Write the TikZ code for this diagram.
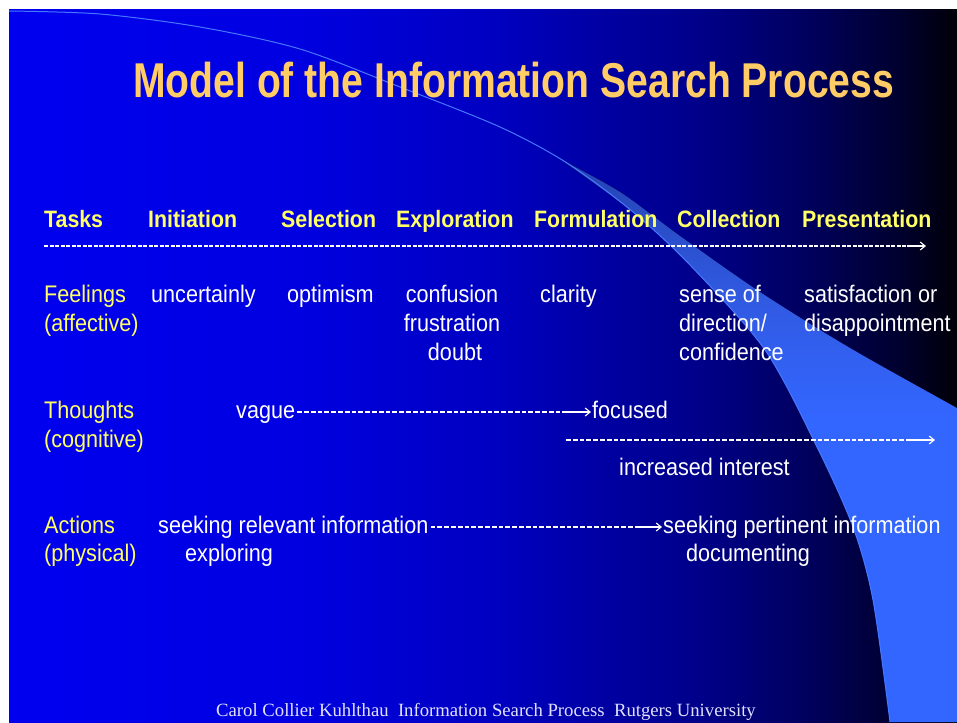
\documentclass[tikz,border=0pt]{standalone}
\usepackage{fontspec}
\setmainfont{Liberation Sans}
\newfontfamily\titlefont[FakeStretch=0.8]{Liberation Sans}
\newfontfamily\bodyfont[FakeStretch=0.9]{Liberation Sans}
\newfontfamily\footfont{Liberation Serif}
\usetikzlibrary{calc,arrows.meta}
\definecolor{titlegold}{RGB}{255,204,102}
\definecolor{taskyellow}{RGB}{255,255,102}
\definecolor{footwhite}{RGB}{225,225,255}
\definecolor{swline}{RGB}{70,120,255}
\pgfdeclarehorizontalshading{slidebg}{100bp}{rgb(0bp)=(0,0,0.94); rgb(25bp)=(0,0,0.94); rgb(40.3bp)=(0,0,0.88); rgb(50.9bp)=(0,0,0.75); rgb(56.2bp)=(0,0,0.64); rgb(61.4bp)=(0,0,0.54); rgb(66.7bp)=(0,0,0.38); rgb(72bp)=(0,0,0.18); rgb(75bp)=(0,0,0.03); rgb(100bp)=(0,0,0.03)}
\pgfdeclareverticalshading{wedgesh}{100bp}{rgb(0bp)=(0.2,0.4,1); rgb(52bp)=(0.2,0.4,1); rgb(63bp)=(0.19,0.35,0.88); rgb(75bp)=(0.14,0.26,0.7); rgb(100bp)=(0.14,0.26,0.7)}
\tikzset{
  txt/.style={anchor=base west, inner sep=0pt, text=white, font=\bodyfont\fontsize{24}{28}\selectfont},
  ctr/.style={txt, anchor=base},
  lbl/.style={txt, text=taskyellow},
  task/.style={anchor=base west, inner sep=0pt, text=taskyellow, font=\bodyfont\bfseries\fontsize{23.7}{28}\selectfont},
  titletxt/.style={anchor=base west, inner sep=0pt, text=titlegold, font=\titlefont\bfseries\fontsize{48.9}{52}\selectfont},
  foottxt/.style={anchor=base west, inner sep=0pt, text=footwhite, font=\footfont\fontsize{18.7}{22}\selectfont},
  hyph/.style={draw=white, line width=1.4pt, dash pattern=on 4.8pt off 2pt},
  taskhyph/.style={draw=white, line width=2pt, dash pattern=on 4pt off 1.5pt},
  arrowline/.style={draw=white, line width=1.1pt, -{Straight Barb[length=5pt, width=8pt]}}
}
\begin{document}
\begin{tikzpicture}[x=1pt, y=-1pt]
\useasboundingbox (0,0) rectangle (957,722);
\fill[white] (0,0) rectangle (957,722);
\shade[shading=slidebg] (9,10) rectangle (957,722);
% swoosh
\fill[shading=wedgesh] plot[smooth] coordinates {(560,159) (633,212) (690,265) (765,350) (817,447) (853,527) (873,600) (890,722)} -- (957,722) -- (957,408) -- plot[smooth] coordinates {(957,408) (850,348) (760,292) (680,236) (620,192) (560,159)} -- cycle;
\draw[swline, line width=1pt] plot[smooth] coordinates {(9,11) (100,14) (200,27) (300,49) (400,87) (500,127) (567,163) (633,212) (690,265) (765,350) (817,447) (853,527) (873,600) (890,722)};
% title
\node[titletxt] (title) at (133,98) {Model of the Information Search Process};
% tasks row
\node[task] (tasks) at (44,227) {Tasks};
\node[task] (initiation) at (148,227) {Initiation};
\node[task] (selection) at (281,227) {Selection};
\node[task] (exploration) at (396,227) {Exploration};
\node[task] (formulation) at (534,227) {Formulation};
\node[task] (collection) at (677,227) {Collection};
\node[task] (presentation) at (802,227) {Presentation};
\coordinate (tl0) at (44,246);
\coordinate (tl1) at (907,246);
\coordinate (tl2) at (926,246);
\draw[taskhyph] (tl0) -- (tl1);
\draw[arrowline] (tl1) -- (tl2);
% feelings row
\node[lbl] (feel1) at (44,302) {Feelings};
\node[lbl] (feel2) at (44,331) {(affective)};
\node[txt] (uncert) at (151,302) {uncertainly};
\node[txt] (optim) at (287,302) {optimism};
\node[ctr] (conf) at (452,302) {confusion};
\node[ctr] (frust) at (452,331) {frustration};
\node[ctr] (doubt) at (455,360) {doubt};
\node[txt] (clarity) at (540,302) {clarity};
\node[txt] (sense1) at (679,302) {sense of};
\node[txt] (sense2) at (679,331) {direction/};
\node[txt] (sense3) at (679,360) {confidence};
\node[txt] (satis1) at (804,302) {satisfaction or};
\node[txt] (satis2) at (804,331) {disappointment};
% thoughts row
\node[lbl] (th1) at (44,418) {Thoughts};
\node[lbl] (th2) at (44,447) {(cognitive)};
\node[txt] (vague) at (236,418) {vague};
\node[txt] (focused) at (592,418) {focused};
\draw[hyph] ($(vague.base east)+(2,-6)$) -- ($(focused.base west)+(-25,-6)$);
\draw[arrowline] ($(focused.base west)+(-25,-6)$) -- ($(focused.base west)+(-1,-6)$);
\coordinate (il0) at (566,440);
\coordinate (il1) at (911,440);
\coordinate (il2) at (935,440);
\draw[hyph] (il0) -- (il1);
\draw[arrowline] (il1) -- (il2);
\node[txt] (interest) at (619,475) {increased interest};
% actions row
\node[lbl] (ac1) at (44,533) {Actions};
\node[lbl] (ac2) at (44,561) {(physical)};
\node[txt] (relevant) at (158,533) {seeking relevant information};
\node[txt] (exploring) at (185,561) {exploring};
\node[txt] (pertinent) at (663,533) {seeking pertinent information};
\node[txt] (document) at (686,561) {documenting};
\draw[hyph] ($(relevant.base east)+(2,-6)$) -- ($(pertinent.base west)+(-25,-6)$);
\draw[arrowline] ($(pertinent.base west)+(-25,-6)$) -- ($(pertinent.base west)+(-1,-6)$);
% footer
\node[foottxt] (footer) at (216,716) {Carol Collier Kuhlthau\ \ Information Search Process\ \ Rutgers University};
\end{tikzpicture}
\end{document}
